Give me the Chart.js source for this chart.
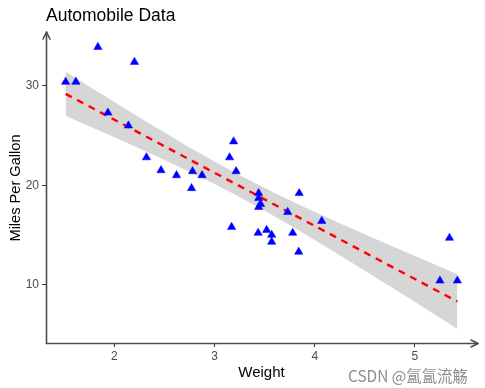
<!DOCTYPE html>
<html><head><meta charset="utf-8">
<script src="https://cdn.jsdelivr.net/npm/chart.js@4/dist/chart.umd.min.js"></script>
<style>html,body{margin:0;padding:0;background:#fff}#wrap{width:485px;height:388px}</style>
</head><body><div id="wrap"><canvas id="c" width="485" height="388"></canvas></div>
<script>
// mtcars: weight (1000 lbs) vs mpg
const weight = [2.620,2.875,2.320,3.215,3.440,3.460,3.570,3.190,3.150,3.440,3.440,4.070,3.730,3.780,5.250,5.424,5.345,2.200,1.615,1.835,2.465,3.520,3.435,3.840,3.845,1.935,2.140,1.513,3.170,2.770,3.570,2.780];
const mpg = [21.0,21.0,22.8,21.4,18.7,18.1,14.3,24.4,22.8,19.2,17.8,16.4,17.3,15.2,10.4,10.4,14.7,32.4,30.4,33.9,21.5,15.5,15.2,13.3,19.2,27.3,26.0,30.4,15.8,19.7,15.0,21.4];
const fitX = [1.513, 5.424];
const fitY = [29.20, 8.30];
const bandX = [1.513,1.75,2,2.25,2.5,2.75,3,3.217,3.5,3.75,4,4.25,4.5,4.75,5,5.25,5.424];
const bandLow = [26.96,25.93,24.82,23.70,22.55,21.37,20.13,18.99,17.43,15.99,14.49,12.96,11.40,9.83,8.25,6.66,5.55];
const bandHigh = [31.43,29.94,28.37,26.82,25.30,23.81,22.38,21.19,19.73,18.50,17.32,16.18,15.07,13.97,12.88,11.80,11.05];
const xTicks = [2,3,4,5];
const yTicks = [10,20,30];
const xRange = [1.317, 5.620];
const yRange = [4.13, 35.32];

const pts = weight.map((w,i)=>({x:w,y:mpg[i]}));
const fit = fitX.map((x,i)=>({x:x,y:fitY[i]}));
const low = bandX.map((x,i)=>({x:x,y:bandLow[i]}));
const high = bandX.map((x,i)=>({x:x,y:bandHigh[i]}));

const deco = {
  id:'deco',
  afterDraw(chart){
    const ctx = chart.ctx, a = chart.chartArea;
    ctx.save();
    ctx.strokeStyle = '#4d4d4d'; ctx.lineWidth = 1.6; ctx.lineCap='round'; ctx.lineJoin='round';
    const L = a.left+0.5, B = a.bottom+0.5;
    ctx.beginPath(); ctx.moveTo(L,B); ctx.lineTo(L,a.top-1); ctx.stroke();
    ctx.beginPath(); ctx.moveTo(L-3.5,a.top+6); ctx.lineTo(L,a.top-1); ctx.lineTo(L+3.5,a.top+6); ctx.stroke();
    ctx.beginPath(); ctx.moveTo(L,B); ctx.lineTo(a.right+1,B); ctx.stroke();
    ctx.beginPath(); ctx.moveTo(a.right-6,B-3.5); ctx.lineTo(a.right+1,B); ctx.lineTo(a.right-6,B+3.5); ctx.stroke();
    // titles
    ctx.fillStyle = '#000';
    ctx.font = '17.5px "Liberation Sans", Arial, sans-serif';
    ctx.textBaseline = 'alphabetic'; ctx.textAlign = 'left';
    ctx.fillText('Automobile Data', a.left, 21);
    ctx.font = '15px "Liberation Sans", Arial, sans-serif';
    ctx.textAlign = 'center'; ctx.textBaseline='middle';
    ctx.fillText('Weight', (a.left+a.right)/2, 373);
    ctx.save();
    ctx.font = '14.6px "Liberation Sans", Arial, sans-serif';
    ctx.translate(16, (a.top+a.bottom)/2); ctx.rotate(-Math.PI/2);
    ctx.fillText('Miles Per Gallon', 0, 0);
    ctx.restore();
    ctx.fillStyle = '#8c8c8c';
    ctx.font = '15.4px "Noto Sans CJK SC", "Liberation Sans", sans-serif';
    ctx.textAlign = 'left';
    ctx.fillText('CSDN @氲氲流觞', 348, 376);
    ctx.restore();
  }
};

new Chart(document.getElementById('c'), {
  type:'scatter',
  data:{datasets:[
    {data:pts, pointStyle:'triangle', pointRadius:4.8, backgroundColor:'#0000ff', borderColor:'#0000ff', borderWidth:0.5, showLine:false},
    {data:fit, showLine:true, pointRadius:0, borderColor:'#ff0000', borderWidth:2.4, borderDash:[7,6], fill:false},
    {data:high, showLine:true, pointRadius:0, borderWidth:0, borderColor:'rgba(0,0,0,0)', backgroundColor:'#d6d6d6', fill:'+1'},
    {data:low, showLine:true, pointRadius:0, borderWidth:0, borderColor:'rgba(0,0,0,0)', fill:false}
  ]},
  options:{
    responsive:false, animation:false, devicePixelRatio:1,
    layout:{padding:{top:33,right:8,left:0,bottom:0}},
    plugins:{legend:{display:false}, tooltip:{enabled:false}, title:{display:false}},
    scales:{
      x:{type:'linear', min:xRange[0], max:xRange[1],
        afterBuildTicks(s){ s.ticks = xTicks.map(v=>({value:v})); },
        afterFit(s){ s.height = 45; },
        grid:{display:true, drawOnChartArea:false, drawTicks:true, tickLength:4, color:'#333', lineWidth:1},
        border:{display:false},
        ticks:{padding:2, color:'#4d4d4d', font:{size:12, family:'"Liberation Sans", Arial, sans-serif'}, autoSkip:false, maxRotation:0}
      },
      y:{type:'linear', min:yRange[0], max:yRange[1],
        afterBuildTicks(s){ s.ticks = yTicks.map(v=>({value:v})); },
        afterFit(s){ s.width = 46; },
        grid:{display:true, drawOnChartArea:false, drawTicks:true, tickLength:4, color:'#333', lineWidth:1},
        border:{display:false},
        ticks:{padding:3, color:'#4d4d4d', font:{size:12, family:'"Liberation Sans", Arial, sans-serif'}, autoSkip:false}
      }
    }
  },
  plugins:[deco]
});
</script></body></html>
